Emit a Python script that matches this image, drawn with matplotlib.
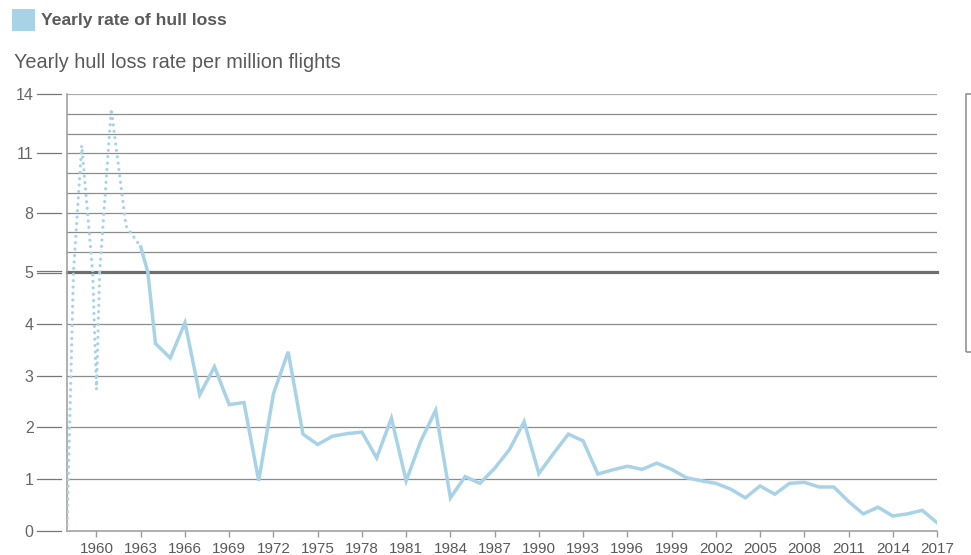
import numpy as np
import matplotlib
matplotlib.use('Agg')
import matplotlib.pyplot as plt
from matplotlib.patches import Rectangle
import matplotlib.transforms as mtransforms

# early years drawn dotted, the rest solid
early_years = [1958, 1959, 1960, 1961, 1962, 1963]
early_rate = [0.0, 11.4, 2.73, 13.25, 7.33, 6.27]

years = list(range(1963, 2018))
rate = [6.27, 3.62, 3.34, 4.02, 2.63, 3.17, 2.44, 2.48, 0.97, 2.65,
        3.46, 1.87, 1.67, 1.83, 1.88, 1.91, 1.41, 2.18, 0.97, 1.74,
        2.33, 0.64, 1.05, 0.92, 1.21, 1.57, 2.11, 1.11, 1.50, 1.87,
        1.74, 1.10, 1.18, 1.25, 1.19, 1.31, 1.19, 1.03, 0.97, 0.92,
        0.81, 0.64, 0.87, 0.71, 0.92, 0.94, 0.85, 0.85, 0.57, 0.33,
        0.46, 0.29, 0.33, 0.40, 0.16]

xtick_years = list(range(1960, 2018, 3))
lower_ticks = [0, 1, 2, 3, 4, 5]
upper_ticks = [8, 11, 14]

LINE = '#a8d3e6'
GRID = '#8c8c8c'
TXT = '#5a5a5a'

W, H = 971, 555
plt.rcParams['font.family'] = ['Liberation Sans', 'DejaVu Sans']
fig = plt.figure(figsize=(W / 100, H / 100), dpi=100)


def px(x0, y0, x1, y1):
    # pixel box (top-left origin) -> figure fraction rect
    return [x0 / W, 1 - y1 / H, (x1 - x0) / W, (y1 - y0) / H]


ax_lo = fig.add_axes(px(67, 272, 937, 531))
ax_hi = fig.add_axes(px(67, 94, 937, 272), sharex=ax_lo)

ax_lo.set_ylim(0, 5)
ax_hi.set_ylim(5, 14)
ax_lo.set_xlim(1958, 2017)

for ax in (ax_lo, ax_hi):
    ax.plot(early_years, early_rate, color=LINE, lw=2.3,
            linestyle=(0, (0.01, 2.0)), dash_capstyle='round', zorder=3)
    ax.plot(years, rate, color=LINE, lw=2.5, solid_joinstyle='miter',
            zorder=4)
    for s in ('top', 'right', 'bottom'):
        ax.spines[s].set_visible(False)
    ax.spines['left'].set_color('#9a9a9a')
    ax.spines['left'].set_linewidth(1.1)
    ax.patch.set_visible(False)

# gridlines
for v in [1, 2, 3, 4]:
    ax_lo.axhline(v, color=GRID, lw=0.9, zorder=1)
for v in range(6, 15):
    ax_hi.axhline(v, color=GRID if v < 14 else '#aaaaaa', lw=0.9, zorder=1)
ax_lo.axhline(5, color='#6e6e6e', lw=2.3, zorder=2, clip_on=False)

# x axis
ax_lo.spines['bottom'].set_visible(True)
ax_lo.spines['bottom'].set_color('#9a9a9a')
ax_lo.spines['bottom'].set_linewidth(1.1)
ax_lo.set_xticks(xtick_years)
ax_lo.set_xticklabels([str(y) for y in xtick_years])
ax_lo.tick_params(axis='x', length=4, width=1, color='#9a9a9a', pad=4,
                  labelsize=11, labelcolor=TXT)
ax_hi.tick_params(axis='x', bottom=False, labelbottom=False)

# y axis labels and detached tick marks
ax_lo.set_yticks(lower_ticks)
ax_hi.set_yticks(upper_ticks)
for ax in (ax_lo, ax_hi):
    ax.tick_params(axis='y', length=0, pad=24, labelsize=11.5, labelcolor='#666666')
    tr = mtransforms.blended_transform_factory(ax.transAxes, ax.transData)
    for v in ax.get_yticks():
        if v == 5:
            continue
        ax.plot([-30 / 870, -6 / 870], [v, v], transform=tr, color='#777777',
                lw=0.9, clip_on=False)
tr = mtransforms.blended_transform_factory(ax_lo.transAxes, ax_lo.transData)
for dv in (-0.025, 0.025):
    ax_lo.plot([-30 / 870, -6 / 870], [5 + dv, 5 + dv], transform=tr,
               color='#777777', lw=0.9, clip_on=False)

# legend swatch and titles
fig.add_artist(Rectangle((12 / W, 1 - 31 / H), 23 / W, 22 / H,
                         transform=fig.transFigure, color=LINE, lw=0))
fig.text(41 / W, 1 - 20.5 / H, 'Yearly rate of hull loss', fontsize=12.6,
         fontweight='bold', color=TXT, va='center', ha='left')
fig.text(14 / W, 1 - 62 / H, 'Yearly hull loss rate per million flights',
         fontsize=14.3, color=TXT, va='center', ha='left')

# partial box cut off at the right edge
fig.add_artist(Rectangle((965.5 / W, 1 - 352 / H), 20 / W, 258 / H,
                         transform=fig.transFigure, fill=False,
                         edgecolor='#8a8a8a', lw=1.1, clip_on=False))

fig.savefig('out.png', dpi=100)
